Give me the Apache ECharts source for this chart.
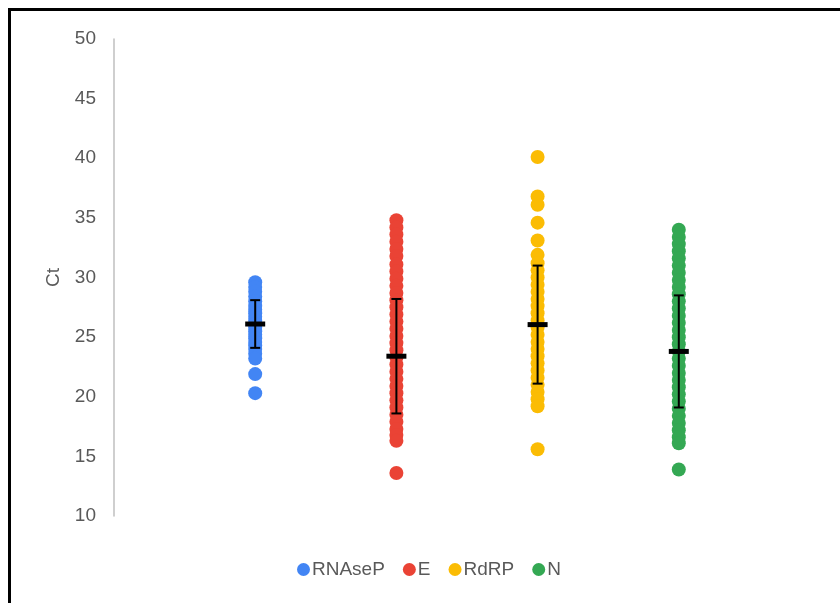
<!DOCTYPE html>
<html>
<head>
<meta charset="utf-8">
<script src="https://cdn.jsdelivr.net/npm/echarts@6/dist/echarts.min.js"></script>
<style>
  html, body { margin: 0; padding: 0; background: #fff; }
  #chart { position: absolute; left: 0; top: 0; width: 840px; height: 603px; }
  #frame { position: absolute; left: 8px; top: 8px; right: 0; bottom: 0;
           border-top: 3px solid #000; border-left: 3px solid #000; pointer-events: none; }
</style>
</head>
<body>
<div id="chart"></div>
<div id="frame"></div>
<script>
// Categories (placed at x = 1..4 on a hidden value axis, as in the source scatter)
const categories = ['RNAseP', 'E', 'RdRP', 'N'];
const categoryX = [1, 2, 3, 4];
const colors = ['#4285F4', '#EA4335', '#FBBC04', '#34A853'];
const yTicks = { min: 10, max: 50, step: 5 };

// Ct values
const ctRNAseP = [29.6, 29.2, 28.8, 28.4, 28.0, 27.6, 27.3, 27.0, 26.7, 26.4, 26.1, 25.8,
  25.5, 25.2, 24.9, 24.6, 24.3, 24.0, 23.6, 23.2, 21.9, 20.3];
const ctE = [34.8, 34.2, 33.6, 33.0, 32.4, 31.8, 31.1, 30.5, 29.9, 29.3, 28.7, 28.1, 27.5,
  26.9, 26.3, 25.7, 25.1, 24.5, 23.9, 23.3, 22.7, 22.1, 21.5, 20.9, 20.3, 19.7, 19.1, 18.5,
  17.9, 17.3, 16.8, 16.3, 13.6];
const ctRdRP = [40.1, 36.8, 36.1, 34.6, 33.1, 31.9, 31.2, 30.6, 30.0, 29.4, 28.8, 28.2, 27.6,
  27.0, 26.4, 25.8, 25.2, 24.6, 24.0, 23.4, 22.8, 22.2, 21.6, 21.0, 20.4, 19.8, 19.2, 15.6];
const ctN = [34.0, 33.4, 32.8, 32.2, 31.6, 31.0, 30.4, 29.8, 29.2, 28.6, 28.0, 27.4, 26.8,
  26.2, 25.6, 25.0, 24.4, 23.8, 23.2, 22.6, 22.0, 21.4, 20.8, 20.2, 19.6, 19.0, 18.4, 17.8,
  17.2, 16.6, 16.1, 13.9];

// Mean and error (SD)
const means = [26.1, 23.4, 26.05, 23.8];
const errors = [2.0, 4.8, 4.95, 4.7];

const seriesValues = [ctRNAseP, ctE, ctRdRP, ctN];

const chart = echarts.init(document.getElementById('chart'));

const scatterSeries = categories.map((name, i) => ({
  name: name,
  type: 'scatter',
  symbol: 'circle',
  symbolSize: 14,
  itemStyle: { color: colors[i], opacity: 1 },
  z: 2,
  data: seriesValues[i].map(v => [categoryX[i], v])
}));

const errData = categories.map((c, i) => [categoryX[i], means[i], errors[i]]);

const errorSeries = {
  type: 'custom',
  name: 'errors',
  z: 5,
  silent: true,
  data: errData,
  renderItem: function (params, api) {
    const x = api.value(0), m = api.value(1), e = api.value(2);
    const pTop = api.coord([x, m + e]);
    const pBot = api.coord([x, m - e]);
    const pMid = api.coord([x, m]);
    const cap = 5, bar = 10;
    const ls = { stroke: '#000', lineWidth: 2 };
    return {
      type: 'group',
      children: [
        { type: 'line', shape: { x1: pTop[0], y1: pTop[1], x2: pBot[0], y2: pBot[1] }, style: ls },
        { type: 'line', shape: { x1: pTop[0] - cap, y1: pTop[1], x2: pTop[0] + cap, y2: pTop[1] }, style: ls },
        { type: 'line', shape: { x1: pBot[0] - cap, y1: pBot[1], x2: pBot[0] + cap, y2: pBot[1] }, style: ls },
        { type: 'rect', shape: { x: pMid[0] - bar, y: pMid[1] - 2.5, width: bar * 2, height: 5 }, style: { fill: '#000' } }
      ]
    };
  }
};

chart.setOption({
  animation: false,
  backgroundColor: '#fff',
  textStyle: { fontFamily: 'Liberation Sans, Arial, sans-serif' },
  grid: { left: 114, right: 20, top: 39, bottom: 87, containLabel: false },
  xAxis: {
    type: 'value', min: 0, max: 5,
    show: false
  },
  yAxis: {
    type: 'value',
    min: yTicks.min, max: yTicks.max, interval: yTicks.step,
    name: 'Ct',
    nameLocation: 'middle',
    nameGap: 51,
    nameTextStyle: { color: '#595959', fontSize: 19, fontFamily: 'Liberation Sans, Arial, sans-serif' },
    axisLine: { show: true, lineStyle: { color: '#bfbfbf', width: 1.5 } },
    axisTick: { show: false },
    splitLine: { show: false },
    axisLabel: { color: '#595959', fontSize: 19, margin: 18, fontFamily: 'Liberation Sans, Arial, sans-serif' }
  },
  legend: {
    data: categories,
    left: 292,
    top: 555,
    icon: 'circle',
    itemWidth: 13,
    itemHeight: 13,
    itemGap: 18,
    textStyle: { color: '#595959', fontSize: 19, padding: [0, 0, 0, -3] }
  },
  series: scatterSeries.concat([errorSeries])
});
</script>
</body>
</html>
